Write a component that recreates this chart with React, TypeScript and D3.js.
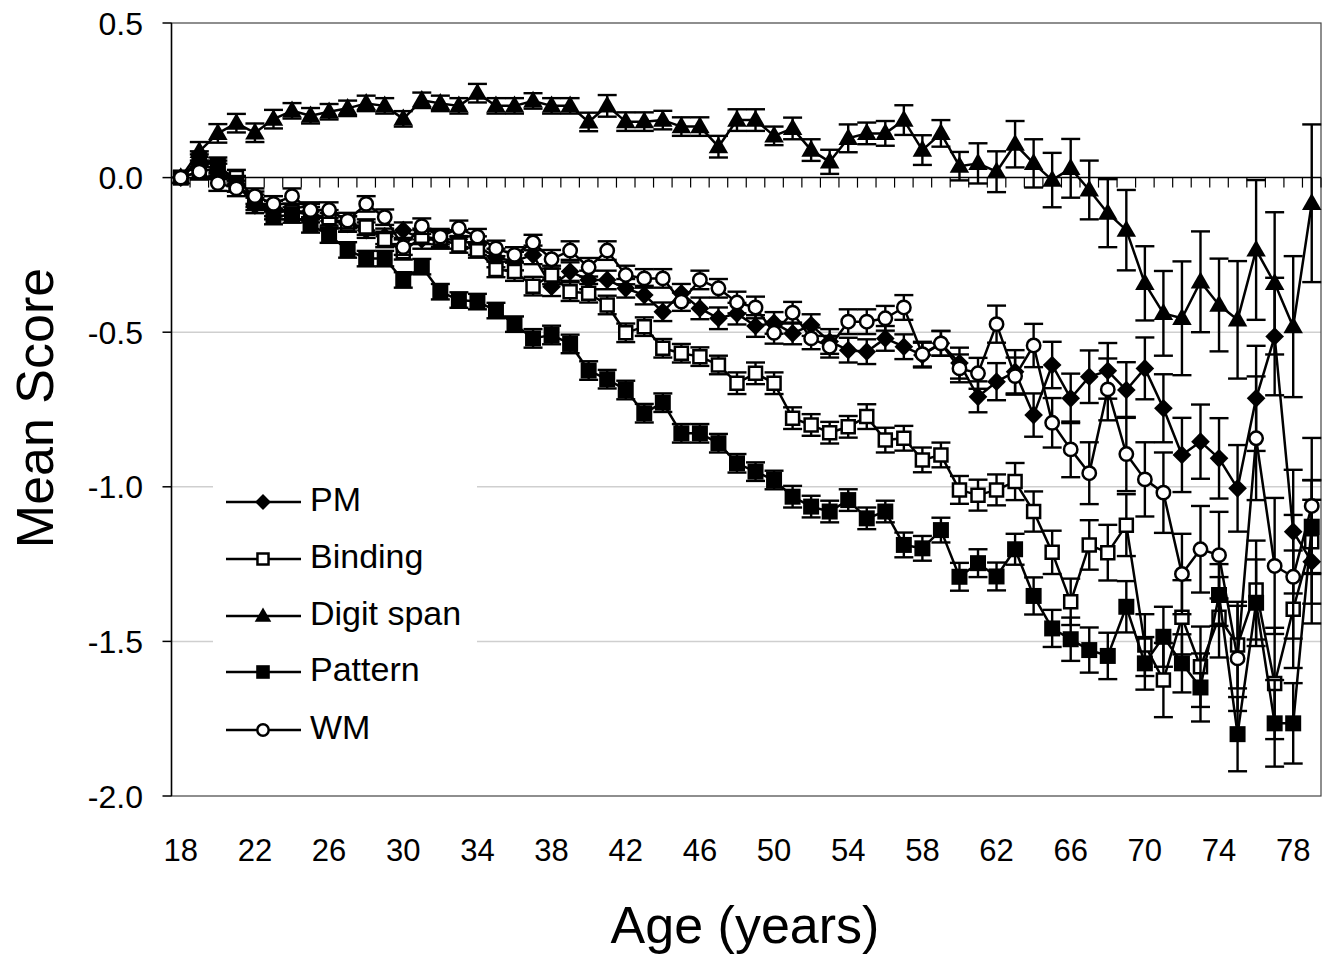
import React from 'react';
import * as d3 from 'd3';

const ages = [18,19,20,21,22,23,24,25,26,27,28,29,30,31,32,33,34,35,36,37,38,39,40,41,42,43,44,45,46,47,48,
  49,50,51,52,53,54,55,56,57,58,59,60,61,62,63,64,65,66,67,68,69,70,71,72,73,74,75,76,77,78,79];
const xTickLabels = [18,22,26,30,34,38,42,46,50,54,58,62,66,70,74,78];
const yTicks = [0.5, 0, -0.5, -1, -1.5, -2];
const gridValues = [-0.5, -1, -1.5];

const pm = [0,0.05,0.02,-0.02,-0.09,-0.1,-0.11,-0.11,-0.14,-0.15,-0.17,-0.19,-0.17,-0.2,-0.2,-0.2,-0.22,-0.26,-0.27,-0.25,
  -0.353,-0.304,-0.331,-0.331,-0.358,-0.38,-0.434,-0.374,-0.423,-0.455,-0.44,-0.48,-0.47,-0.504,-0.477,-0.53,-0.558,-0.563,
  -0.52,-0.547,-0.574,-0.536,-0.6,-0.709,-0.66,-0.628,-0.768,-0.606,-0.714,-0.644,-0.625,-0.687,-0.617,-0.746,-0.897,-0.854,
  -0.908,-1.005,-0.714,-0.514,-1.145,-1.242];
const pmErr = [0,0.025,0.025,0.025,0.025,0.025,0.025,0.025,0.025,0.025,0.025,0.025,0.025,0.03,0.03,0.03,0.03,0.03,0.03,0.03,
  0.03,0.03,0.03,0.03,0.03,0.03,0.03,0.03,0.035,0.035,0.035,0.035,0.035,0.035,0.035,0.04,0.04,0.04,0.04,0.04,0.04,0.04,
  0.05,0.05,0.06,0.07,0.07,0.075,0.08,0.085,0.09,0.09,0.1,0.11,0.12,0.12,0.13,0.14,0.17,0.19,0.2,0.2];

const binding = [0,0.02,0.03,0,-0.07,-0.11,-0.11,-0.12,-0.13,-0.15,-0.16,-0.2,-0.24,-0.19,-0.2,-0.218,-0.234,-0.297,-0.304,
  -0.351,-0.315,-0.369,-0.374,-0.412,-0.502,-0.482,-0.552,-0.568,-0.579,-0.606,-0.665,-0.633,-0.665,-0.778,-0.8,-0.825,-0.806,
  -0.773,-0.849,-0.843,-0.913,-0.897,-1.01,-1.027,-1.01,-0.983,-1.08,-1.212,-1.372,-1.188,-1.213,-1.124,-1.512,-1.625,-1.422,
  -1.582,-1.422,-1.512,-1.334,-1.636,-1.396,-1.178];
const bindingErr = [0,0.025,0.025,0.025,0.025,0.025,0.025,0.025,0.025,0.025,0.025,0.025,0.025,0.025,0.025,0.025,0.025,0.025,
  0.03,0.03,0.03,0.03,0.03,0.03,0.03,0.03,0.03,0.03,0.03,0.03,0.035,0.035,0.035,0.035,0.035,0.035,0.035,0.04,0.04,0.04,0.04,
  0.04,0.045,0.05,0.05,0.06,0.065,0.07,0.075,0.08,0.09,0.1,0.1,0.12,0.12,0.13,0.13,0.14,0.16,0.18,0.19,0.2];

const digitSpan = [0,0.085,0.143,0.176,0.145,0.189,0.216,0.2,0.213,0.224,0.24,0.232,0.19,0.25,0.24,0.232,0.273,0.232,0.232,
  0.248,0.232,0.232,0.18,0.232,0.181,0.181,0.186,0.165,0.165,0.1,0.186,0.186,0.135,0.159,0.089,0.051,0.127,0.143,0.143,0.186,
  0.089,0.143,0.037,0.046,0.019,0.108,0.046,-0.008,0.03,-0.04,-0.115,-0.17,-0.342,-0.439,-0.455,-0.337,-0.412,-0.46,-0.234,
  -0.342,-0.482,-0.083];
const digitSpanErr = [0,0.03,0.03,0.03,0.03,0.03,0.025,0.025,0.025,0.025,0.025,0.025,0.025,0.025,0.025,0.025,0.03,0.025,0.025,
  0.025,0.025,0.025,0.03,0.035,0.03,0.03,0.03,0.03,0.03,0.035,0.035,0.035,0.03,0.035,0.035,0.039,0.045,0.035,0.04,0.048,0.048,
  0.043,0.046,0.065,0.066,0.075,0.078,0.088,0.095,0.095,0.11,0.13,0.12,0.137,0.184,0.163,0.15,0.19,0.226,0.23,0.228,0.255];

const pattern = [0,0.06,0.04,-0.02,-0.08,-0.126,-0.121,-0.153,-0.186,-0.234,-0.262,-0.262,-0.331,-0.288,-0.369,-0.396,-0.401,
  -0.43,-0.474,-0.52,-0.509,-0.538,-0.624,-0.652,-0.687,-0.762,-0.728,-0.827,-0.827,-0.859,-0.924,-0.951,-0.978,-1.032,-1.064,
  -1.08,-1.043,-1.102,-1.08,-1.188,-1.199,-1.14,-1.291,-1.247,-1.29,-1.202,-1.353,-1.458,-1.493,-1.528,-1.547,-1.388,-1.571,
  -1.485,-1.571,-1.649,-1.35,-1.8,-1.375,-1.765,-1.765,-1.129];
const patternErr = [0,0.025,0.025,0.025,0.025,0.025,0.025,0.025,0.025,0.025,0.025,0.025,0.025,0.025,0.025,0.025,0.025,0.025,
  0.025,0.03,0.03,0.03,0.03,0.03,0.03,0.03,0.03,0.03,0.03,0.03,0.03,0.03,0.03,0.035,0.035,0.035,0.035,0.035,0.035,0.04,0.04,
  0.04,0.045,0.045,0.045,0.05,0.06,0.06,0.07,0.073,0.075,0.083,0.085,0.097,0.094,0.11,0.1,0.12,0.14,0.14,0.13,0.15];

const wm = [0,0.019,-0.018,-0.035,-0.06,-0.085,-0.06,-0.105,-0.105,-0.139,-0.085,-0.128,-0.225,-0.157,-0.191,-0.164,-0.191,
  -0.229,-0.25,-0.21,-0.264,-0.236,-0.29,-0.236,-0.315,-0.326,-0.326,-0.401,-0.331,-0.358,-0.404,-0.42,-0.502,-0.437,-0.52,
  -0.547,-0.466,-0.466,-0.455,-0.42,-0.571,-0.536,-0.617,-0.633,-0.474,-0.642,-0.543,-0.793,-0.879,-0.956,-0.685,-0.894,-0.976,
  -1.019,-1.282,-1.202,-1.221,-1.555,-0.843,-1.256,-1.291,-1.062];
const wmErr = [0,0.025,0.025,0.025,0.025,0.025,0.025,0.025,0.025,0.025,0.025,0.025,0.025,0.025,0.025,0.025,0.025,0.025,0.025,
  0.025,0.03,0.03,0.03,0.03,0.03,0.03,0.03,0.03,0.03,0.03,0.035,0.035,0.035,0.035,0.035,0.035,0.04,0.04,0.04,0.04,0.04,0.04,
  0.045,0.05,0.06,0.06,0.07,0.08,0.09,0.1,0.1,0.12,0.12,0.13,0.13,0.14,0.14,0.17,0.2,0.22,0.2,0.22];

const seriesNames = ['PM', 'Binding', 'Digit span', 'Pattern', 'WM'];

type Kind = 'diamond' | 'openSquare' | 'triangle' | 'square' | 'circle';
const series: { name: string; values: number[]; errs: number[]; kind: Kind }[] = [
  { name: seriesNames[0], values: pm, errs: pmErr, kind: 'diamond' },
  { name: seriesNames[1], values: binding, errs: bindingErr, kind: 'openSquare' },
  { name: seriesNames[2], values: digitSpan, errs: digitSpanErr, kind: 'triangle' },
  { name: seriesNames[3], values: pattern, errs: patternErr, kind: 'square' },
  { name: seriesNames[4], values: wm, errs: wmErr, kind: 'circle' },
];

const FONT = '"Liberation Sans", Arial, Helvetica, sans-serif';

function Marker({ kind, x, y, s = 1 }: { kind: Kind; x: number; y: number; s?: number }) {
  if (kind === 'diamond') {
    const p = d3.symbol().type(d3.symbolSquare).size(13.2 * 13.2 * s * s)();
    return <path d={p || ''} transform={`translate(${x},${y}) rotate(45)`} fill="#000" />;
  }
  if (kind === 'square') {
    const p = d3.symbol().type(d3.symbolSquare).size(16 * 16 * s * s)();
    return <path d={p || ''} transform={`translate(${x},${y})`} fill="#000" />;
  }
  if (kind === 'openSquare') {
    const p = d3.symbol().type(d3.symbolSquare).size(13 * 13 * s * s)();
    return <path d={p || ''} transform={`translate(${x},${y})`} fill="#fff" stroke="#000" strokeWidth={2.5} />;
  }
  if (kind === 'triangle') {
    const p = d3.symbol().type(d3.symbolTriangle).size(165 * s * s)();
    return <path d={p || ''} transform={`translate(${x},${y + 1})`} fill="#000" />;
  }
  const p = d3.symbol().type(d3.symbolCircle).size(Math.PI * 6.7 * 6.7 * s * s)();
  return <path d={p || ''} transform={`translate(${x},${y})`} fill="#fff" stroke="#000" strokeWidth={2.5} />;
}

export default function App() {
  const W = 1333, H = 957;
  const left = 171.5, right = 1321, top = 23, bottom = 796;
  const x = d3.scaleBand<number>().domain(ages).range([left, right]).padding(0);
  const bw = x.bandwidth();
  const cx = (a: number) => (x(a) as number) + bw / 2;
  const y = d3.scaleLinear().domain([-2, 0.5]).range([bottom, top]);
  const y0 = y(0);
  const line = d3.line<number>().x((_, i) => cx(ages[i])).y((v) => y(v));
  const capW = 9.5;

  const legendRows = [502, 559, 616, 672, 730];

  return (
    <svg width={W} height={H} style={{ position: 'absolute', left: 0, top: 0, background: '#fff' }}
      xmlns="http://www.w3.org/2000/svg">
      <rect x={0} y={0} width={W} height={H} fill="#fff" />
      {/* gridlines */}
      {gridValues.map((g) => (
        <line key={g} x1={left} x2={right} y1={y(g)} y2={y(g)} stroke="#cfcfcf" strokeWidth={1.5} />
      ))}
      {/* plot border */}
      <rect x={left} y={top} width={right - left} height={bottom - top} fill="none" stroke="#444" strokeWidth={1.2} />
      {/* y axis */}
      <line x1={left} x2={left} y1={top} y2={bottom} stroke="#000" strokeWidth={1.5} />
      {yTicks.map((t) => (
        <g key={t}>
          <line x1={left - 9} x2={left} y1={y(t)} y2={y(t)} stroke="#000" strokeWidth={1.5} />
          <text x={143} y={y(t)} dy="0.36em" textAnchor="end" fontFamily={FONT} fontSize={32} fill="#000">
            {t.toFixed(1)}
          </text>
        </g>
      ))}
      {/* zero category axis with ticks at category boundaries */}
      <line x1={left} x2={right} y1={y0} y2={y0} stroke="#000" strokeWidth={1.5} />
      {ages.map((a) => (
        <line key={a} x1={(x(a) as number) + bw} x2={(x(a) as number) + bw} y1={y0} y2={y0 + 10}
          stroke="#000" strokeWidth={1.2} />
      ))}
      {/* x tick labels */}
      {xTickLabels.map((a) => (
        <text key={a} x={cx(a)} y={861} textAnchor="middle" fontFamily={FONT} fontSize={31} fill="#000">
          {a}
        </text>
      ))}
      {/* axis titles */}
      <text transform={`translate(53,408) rotate(-90)`} textAnchor="middle" fontFamily={FONT} fontSize={52} fill="#000">
        Mean Score
      </text>
      <text x={745} y={943} textAnchor="middle" fontFamily={FONT} fontSize={52} fill="#000">
        Age (years)
      </text>
      {/* series */}
      {series.map((s) => (
        <g key={s.name}>
          <path d={line(s.values) || ''} fill="none" stroke="#000" strokeWidth={2.5} strokeLinejoin="round" />
          {s.values.map((v, i) => {
            const e = s.errs[i];
            if (!e) return null;
            const px = cx(ages[i]);
            const yt = y(v + e), yb = y(v - e);
            return (
              <g key={i} stroke="#000" strokeWidth={2.4}>
                <line x1={px} x2={px} y1={yt} y2={yb} />
                <line x1={px - capW} x2={px + capW} y1={yt} y2={yt} />
                <line x1={px - capW} x2={px + capW} y1={yb} y2={yb} />
              </g>
            );
          })}
          {s.values.map((v, i) => (
            <Marker key={i} kind={s.kind} x={cx(ages[i])} y={y(v)} />
          ))}
        </g>
      ))}
      {/* legend */}
      <rect x={213} y={466} width={264} height={290} fill="#fff" />
      {series.map((s, i) => (
        <g key={s.name}>
          <line x1={226} x2={301} y1={legendRows[i]} y2={legendRows[i]} stroke="#000" strokeWidth={2.5} />
          <Marker kind={s.kind} x={263} y={legendRows[i]} s={0.85} />
          <text x={310} y={legendRows[i] + 9} fontFamily={FONT} fontSize={34} fill="#000">{s.name}</text>
        </g>
      ))}
    </svg>
  );
}
